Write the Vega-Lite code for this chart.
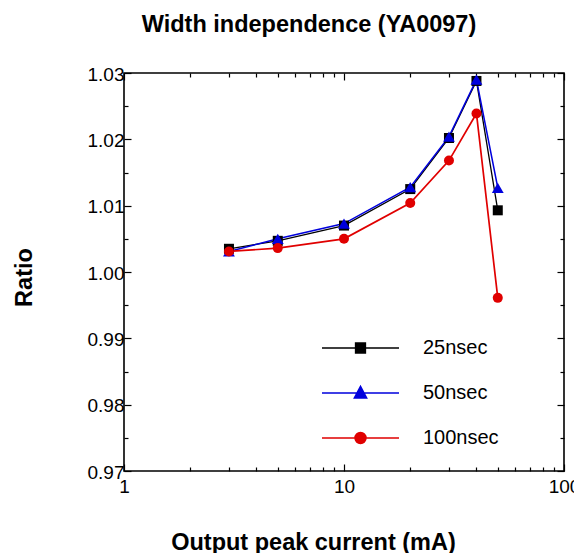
{
  "$schema": "https://vega.github.io/schema/vega-lite/v6.json",
  "width": 440,
  "height": 398,
  "autosize": {"type": "none"},
  "padding": {"left": 124, "top": 73, "right": 10, "bottom": 82},
  "background": "white",
  "config": {
    "view": {"stroke": "black", "strokeWidth": 1.6},
    "font": "Liberation Sans",
    "axis": {
      "domain": false,
      "grid": false,
      "tickColor": "black",
      "tickWidth": 1.2,
      "labelColor": "black",
      "labelFont": "Liberation Sans",
      "labelFontSize": 19,
      "labelFlush": false,
      "labelOverlap": false,
      "titleColor": "black",
      "titleFont": "Liberation Sans",
      "titleFontSize": 23.5,
      "titleFontWeight": "bold"
    },
    "legend": {
      "title": null,
      "orient": "none",
      "legendX": 197,
      "legendY": 260,
      "padding": 0,
      "symbolSize": 5929,
      "symbolStrokeWidth": 1.3,
      "labelFont": "Liberation Sans",
      "labelFontSize": 20,
      "labelColor": "black",
      "labelOffset": 23,
      "clipHeight": 30,
      "rowPadding": 15
    }
  },
  "title": {
    "text": "Width independence (YA0097)",
    "font": "Liberation Sans",
    "fontSize": 23.5,
    "fontWeight": "bold",
    "color": "black",
    "anchor": "middle",
    "dx": -35,
    "offset": 29
  },
  "data": {
    "values": [
      {"series": "25nsec", "current": 3, "ratio": 1.0035},
      {"series": "25nsec", "current": 5, "ratio": 1.0047},
      {"series": "25nsec", "current": 10, "ratio": 1.0070},
      {"series": "25nsec", "current": 20, "ratio": 1.0125},
      {"series": "25nsec", "current": 30, "ratio": 1.0202},
      {"series": "25nsec", "current": 40, "ratio": 1.0288},
      {"series": "25nsec", "current": 50, "ratio": 1.0093},
      {"series": "50nsec", "current": 3, "ratio": 1.0031},
      {"series": "50nsec", "current": 5, "ratio": 1.0050},
      {"series": "50nsec", "current": 10, "ratio": 1.0073},
      {"series": "50nsec", "current": 20, "ratio": 1.0128},
      {"series": "50nsec", "current": 30, "ratio": 1.0204},
      {"series": "50nsec", "current": 40, "ratio": 1.0290},
      {"series": "50nsec", "current": 50, "ratio": 1.0127},
      {"series": "100nsec", "current": 3, "ratio": 1.0031},
      {"series": "100nsec", "current": 5, "ratio": 1.0036},
      {"series": "100nsec", "current": 10, "ratio": 1.0050},
      {"series": "100nsec", "current": 20, "ratio": 1.0104},
      {"series": "100nsec", "current": 30, "ratio": 1.0168},
      {"series": "100nsec", "current": 40, "ratio": 1.0239},
      {"series": "100nsec", "current": 50, "ratio": 0.9961}
    ]
  },
  "layer": [
    {
      "mark": {"type": "line"},
      "encoding": {
        "x": {
          "field": "current", "type": "quantitative",
          "scale": {"type": "log", "domain": [1, 100], "nice": false},
          "axis": {
            "orient": "bottom",
            "title": "Output peak current (mA)",
            "titleX": 189, "titleY": 78, "titleBaseline": "alphabetic", "titleAnchor": null, "titleAlign": "center",
            "values": [1, 2, 3, 4, 5, 6, 7, 8, 9, 10, 20, 30, 40, 50, 60, 70, 80, 90, 100],
            "labelExpr": "indexof([1, 10, 100], datum.value) >= 0 ? format(datum.value, 'd') : ''",
            "labelBaseline": "alphabetic",
            "labelPadding": 28,
            "tickSize": {"condition": {"test": "indexof([1, 10, 100], datum.value) < 0", "value": -4}, "value": -7}
          }
        },
        "y": {
          "field": "ratio", "type": "quantitative",
          "scale": {"domain": [0.97, 1.03], "nice": false, "zero": false},
          "axis": {
            "orient": "left",
            "title": "Ratio",
            "titleX": -93, "titleY": 204, "titleBaseline": "alphabetic", "titleAngle": -90, "titleAlign": "center", "titleAnchor": null,
            "values": [0.97, 0.975, 0.98, 0.985, 0.99, 0.995, 1.0, 1.005, 1.01, 1.015, 1.02, 1.025, 1.03],
            "labelExpr": "abs(datum.value * 100 - round(datum.value * 100)) < 0.01 ? format(datum.value, '.2f') : ''",
            "labelPadding": 7,
            "labelBaseline": "middle",
            "labelOffset": 1,
            "tickSize": {"condition": {"test": "abs(datum.value * 100 - round(datum.value * 100)) > 0.01", "value": -4}, "value": -7}
          }
        },
        "color": {
          "field": "series", "type": "nominal",
          "scale": {"domain": ["25nsec", "50nsec", "100nsec"], "range": ["#000000", "#0000dd", "#e00000"]},
          "legend": {
            "encode": {
              "symbols": {
                "update": {
                  "shape": {"signal": "datum.value === '25nsec' ? 'M-1,0H1M-0.13,-0.13H0.13V0.13H-0.13Z' : datum.value === '50nsec' ? 'M-1,0H1M0,-0.17L0.16,0.13L-0.16,0.13Z' : 'M-1,0H1M-0.14,0A0.14,0.14,0,1,1,0.14,0A0.14,0.14,0,1,1,-0.14,0Z'"},
                  "size": {"value": 5929},
                  "stroke": {"signal": "scale('color', datum.value)"},
                  "fill": {"signal": "scale('color', datum.value)"},
                  "fillOpacity": {"value": 1},
                  "strokeWidth": {"value": 1.3},
                  "opacity": {"value": 1}
                }
              }
            }
          }
        },
        "strokeWidth": {
          "field": "series", "type": "nominal",
          "scale": {"domain": ["25nsec", "50nsec", "100nsec"], "range": [1.3, 1.7, 1.3]},
          "legend": null
        }
      }
    },
    {
      "transform": [{"filter": "datum.series === '25nsec'"}],
      "mark": {"type": "point", "shape": "square", "size": 100, "filled": true, "opacity": 1, "color": "#000000"},
      "encoding": {
        "x": {"field": "current", "type": "quantitative", "axis": null},
        "y": {"field": "ratio", "type": "quantitative", "axis": null}
      }
    },
    {
      "transform": [{"filter": "datum.series === '50nsec'"}],
      "mark": {"type": "point", "shape": "triangle-up", "size": 140, "filled": true, "opacity": 1, "color": "#0000dd"},
      "encoding": {
        "x": {"field": "current", "type": "quantitative", "axis": null},
        "y": {"field": "ratio", "type": "quantitative", "axis": null}
      }
    },
    {
      "transform": [{"filter": "datum.series === '100nsec'"}],
      "mark": {"type": "point", "shape": "circle", "size": 100, "filled": true, "opacity": 1, "color": "#e00000"},
      "encoding": {
        "x": {"field": "current", "type": "quantitative", "axis": null},
        "y": {"field": "ratio", "type": "quantitative", "axis": null}
      }
    },
    {
      "mark": {"type": "point", "opacity": 0},
      "encoding": {
        "x": {
          "field": "current", "type": "quantitative",
          "axis": {
            "orient": "top", "title": null, "labels": false,
            "values": [1, 2, 3, 4, 5, 6, 7, 8, 9, 10, 20, 30, 40, 50, 60, 70, 80, 90, 100],
            "tickSize": {"condition": {"test": "indexof([1, 10, 100], datum.value) < 0", "value": -4}, "value": -7}
          }
        },
        "y": {
          "field": "ratio", "type": "quantitative",
          "axis": {
            "orient": "right", "title": null, "labels": false,
            "values": [0.97, 0.975, 0.98, 0.985, 0.99, 0.995, 1.0, 1.005, 1.01, 1.015, 1.02, 1.025, 1.03],
            "tickSize": {"condition": {"test": "abs(datum.value * 100 - round(datum.value * 100)) > 0.01", "value": -4}, "value": -7}
          }
        }
      }
    }
  ],
  "resolve": {"axis": {"x": "independent", "y": "independent"}}
}
